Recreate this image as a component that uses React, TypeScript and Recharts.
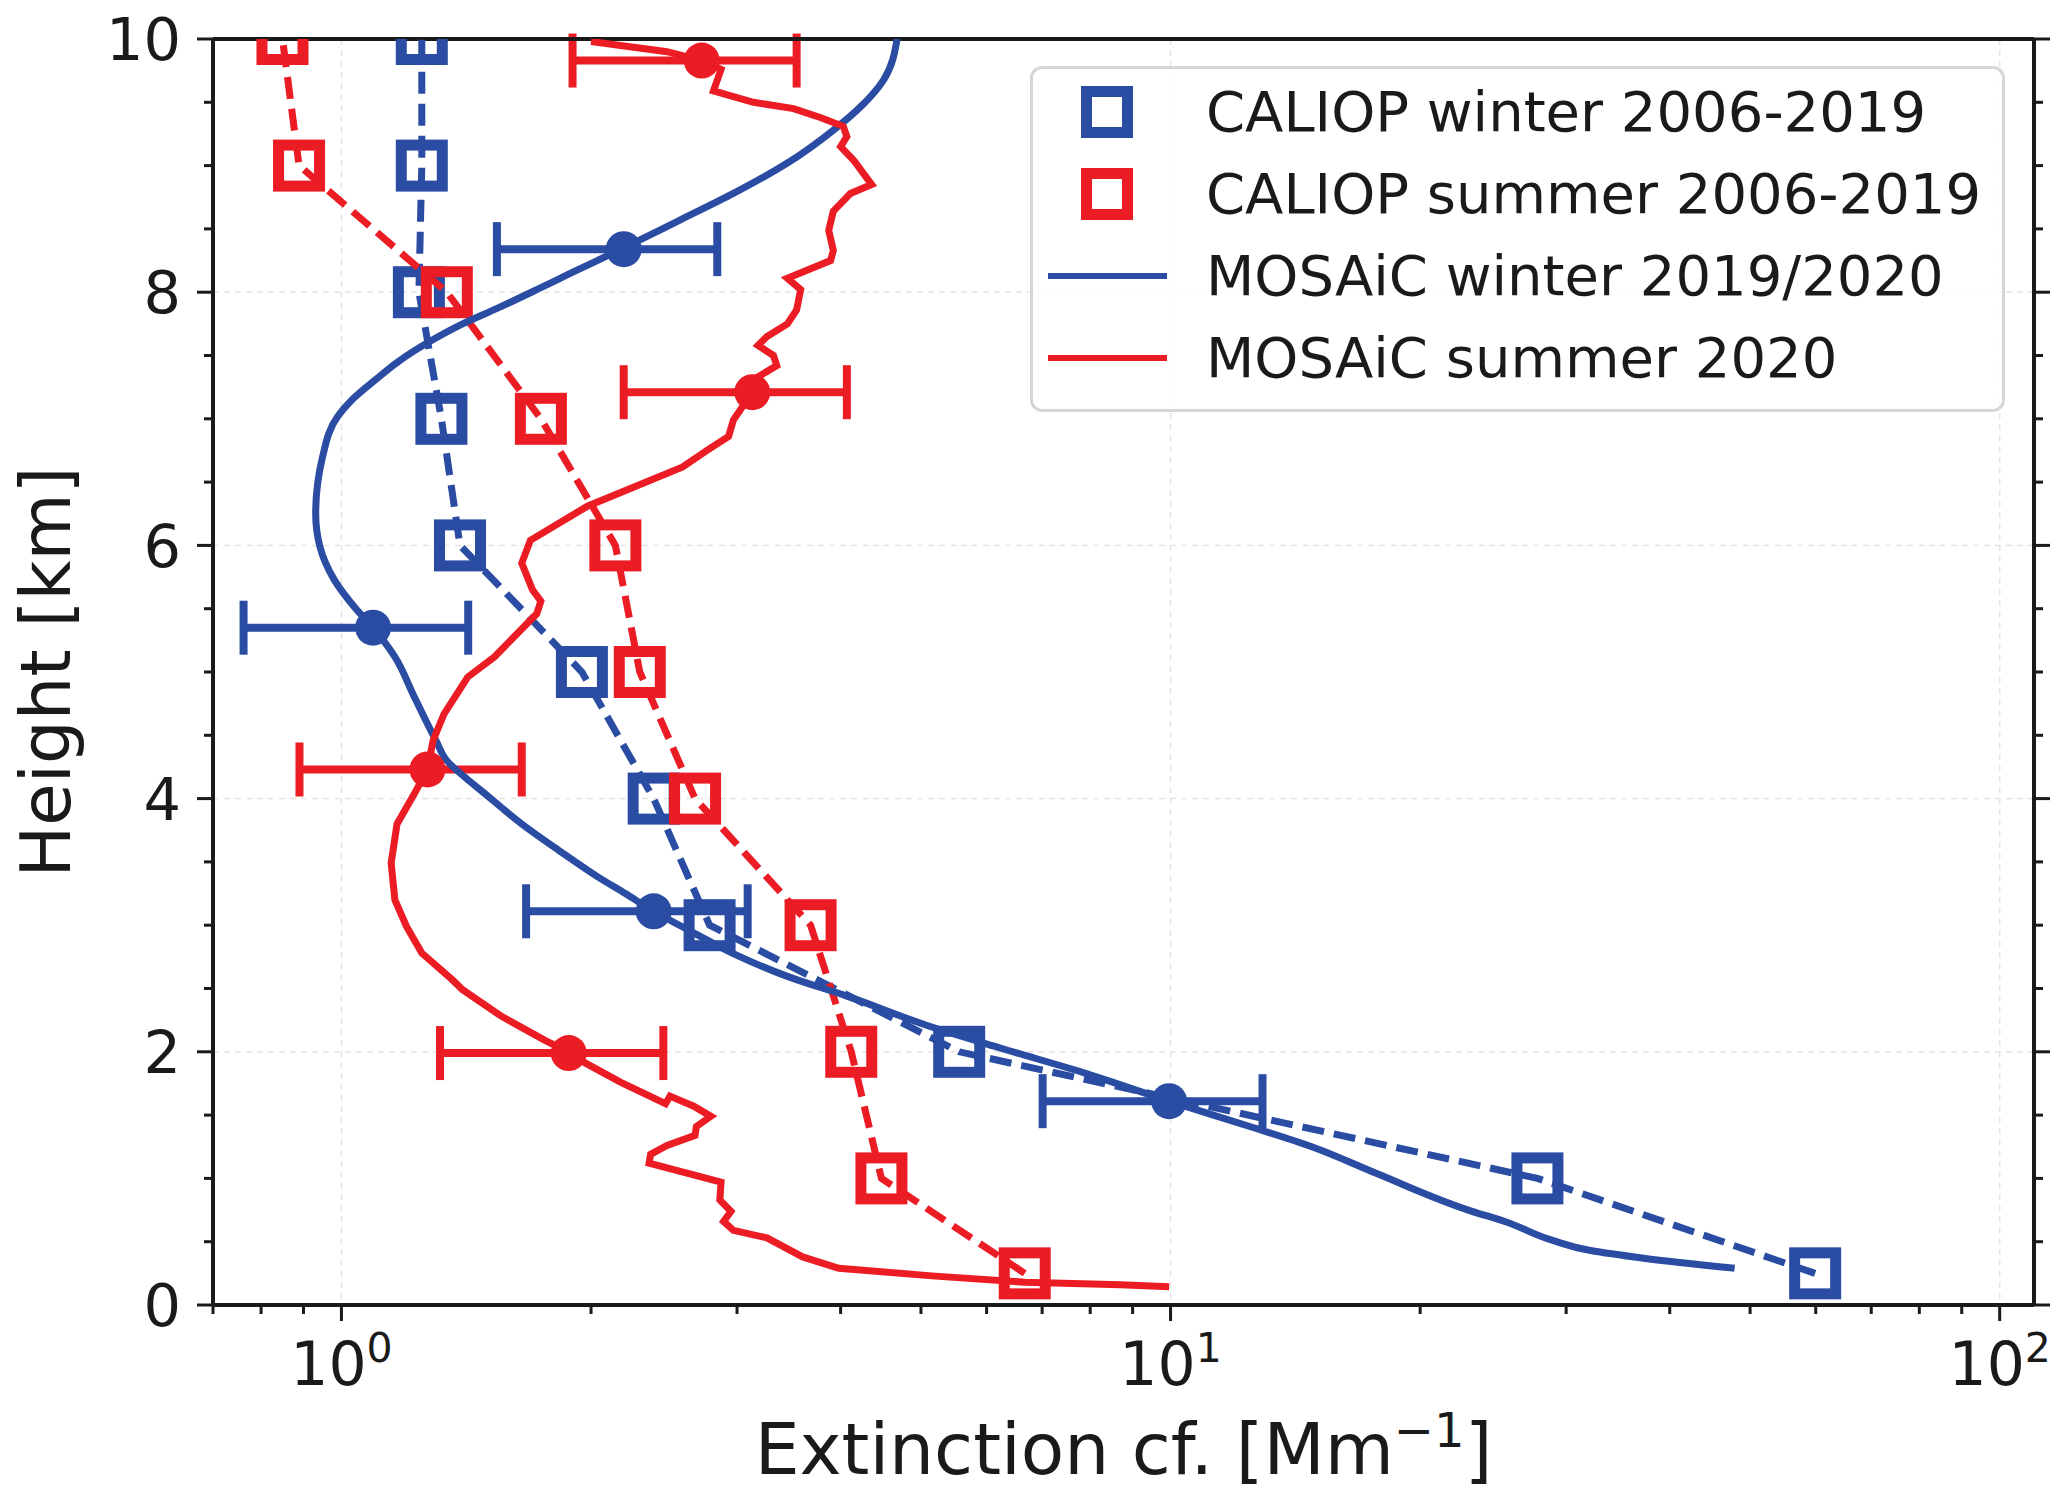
import { CartesianGrid, ComposedChart, ErrorBar, Legend, Scatter, XAxis, YAxis } from 'recharts'

const BLUE = '#2a4da3'
const RED = '#ec1c24'
const INK = '#1a1a1a'
const FONT = '"DejaVu Sans", sans-serif'

// CALIOP climatology (squares, dashed)
const caliopHeights = [0.25, 1, 2, 3, 4, 5, 6, 7, 8, 9, 10]
const caliopWinter = [59.9, 27.7, 5.56, 2.78, 2.38, 1.95, 1.39, 1.32, 1.24, 1.25, 1.25]
const caliopSummer = [6.67, 4.48, 4.12, 3.68, 2.67, 2.29, 2.14, 1.74, 1.34, 0.889, 0.849]

// MOSAiC profiles (solid lines)
const mosaicWinterH = [
  0.29, 0.37, 0.43, 0.51, 0.66, 0.74, 1.04, 1.25, 1.4, 1.61, 1.83, 2.03, 2.2, 2.44, 2.59, 2.78, 2.94,
  3.11, 3.25, 3.38, 3.59, 3.8, 4.07, 4.15, 4.3, 4.46, 4.8, 5.12, 5.35, 5.49, 5.73, 5.99, 6.25, 6.7,
  7.02, 7.15, 7.31, 7.45, 7.6, 7.75, 7.88, 8.02, 8.15, 8.35, 8.57, 8.78, 9.02, 9.28, 9.44, 9.68, 10.0,
]
const mosaicWinterX = [
  47.9, 37.2, 32.1, 28.9, 25.3, 23.1, 17.7, 14.8, 12.6, 9.96, 7.9, 6.23, 5.13, 4.07, 3.47, 2.96, 2.66,
  2.38, 2.2, 2.04, 1.83, 1.65, 1.47, 1.42, 1.34, 1.3, 1.225, 1.16, 1.092, 1.044, 0.98, 0.942, 0.931,
  0.949, 0.99, 1.03, 1.1, 1.17, 1.27, 1.4, 1.55, 1.72, 1.89, 2.19, 2.56, 2.97, 3.45, 3.92, 4.19, 4.51, 4.68,
]
const mosaicSummerH = [
  0.145, 0.16, 0.18, 0.23, 0.29, 0.38, 0.53, 0.59, 0.66, 0.74, 0.83, 0.97, 1.12, 1.19, 1.26, 1.34, 1.41,
  1.49, 1.57, 1.65, 1.59, 1.76, 1.91, 1.99, 2.09, 2.28, 2.49, 2.57, 2.78, 2.99, 3.2, 3.49, 3.8, 4.02,
  4.23, 4.46, 4.67, 4.96, 5.12, 5.46, 5.56, 5.65, 5.86, 6.04, 6.31, 6.46, 6.62, 6.75, 6.86, 6.99, 7.21,
  7.31, 7.42, 7.5, 7.58, 7.65, 7.75, 7.86, 8.02, 8.11, 8.25, 8.33, 8.49, 8.64, 8.78, 8.85, 9.04, 9.15,
  9.23, 9.31, 9.38, 9.45, 9.5, 9.59, 9.76, 9.83, 9.9, 9.98,
]
const mosaicSummerX = [
  9.96, 8.7, 6.67, 5.15, 3.98, 3.6, 3.26, 2.97, 2.89, 2.95, 2.86, 2.87, 2.35, 2.36, 2.47, 2.67, 2.68,
  2.79, 2.66, 2.49, 2.46, 2.17, 1.97, 1.89, 1.76, 1.56, 1.4, 1.36, 1.25, 1.198, 1.16, 1.148, 1.167, 1.22,
  1.27, 1.29, 1.33, 1.42, 1.53, 1.72, 1.74, 1.7, 1.65, 1.69, 1.98, 2.25, 2.58, 2.76, 2.93, 2.97, 3.13,
  3.14, 3.35, 3.32, 3.18, 3.26, 3.45, 3.54, 3.58, 3.45, 3.89, 3.92, 3.87, 3.92, 4.11, 4.36, 4.15, 4.0,
  4.07, 4.03, 3.78, 3.51, 3.14, 2.81, 2.87, 2.72, 2.47, 2.0,
]

// MOSAiC layer means with error bars
const winterPointH = [1.61, 3.11, 5.35, 8.34]
const winterPointX = [9.96, 2.38, 1.092, 2.19]
const winterPointErr = [2.95, 0.71, 0.33, 0.65]
const summerPointH = [1.99, 4.23, 7.21, 9.83]
const summerPointX = [1.88, 1.27, 3.13, 2.72]
const summerPointErr = [0.565, 0.38, 0.94, 0.82]

// axis ticks
const xMajor = [1, 10, 100]
const xTicks = [0.7, 0.8, 0.9, 1, 2, 3, 4, 5, 6, 7, 8, 9, 10, 20, 30, 40, 50, 60, 70, 80, 90, 100]
const yMajor = [0, 2, 4, 6, 8, 10]
const yTicks = [0, 0.5, 1, 1.5, 2, 2.5, 3, 3.5, 4, 4.5, 5, 5.5, 6, 6.5, 7, 7.5, 8, 8.5, 9, 9.5, 10]

const legendItems = [
  { label: 'CALIOP winter 2006-2019', color: BLUE, kind: 'square' },
  { label: 'CALIOP summer 2006-2019', color: RED, kind: 'square' },
  { label: 'MOSAiC winter 2019/2020', color: BLUE, kind: 'line' },
  { label: 'MOSAiC summer 2020', color: RED, kind: 'line' },
]

const toPoints = (h: number[], x: number[], err?: number[]) =>
  h.map((y, i) => ({ x: x[i], y, err: err ? err[i] : 0 }))

const SquareMarker = (color: string) => (props: any) => (
  <rect x={props.cx - 20.5} y={props.cy - 20.5} width={41} height={41} fill="none" stroke={color} strokeWidth={11} />
)
const DotMarker = (color: string) => (props: any) => <circle cx={props.cx} cy={props.cy} r={18} fill={color} />
const NoMarker = () => <g />

function BottomTick({ x, y, payload }: any) {
  const major = xMajor.includes(payload.value)
  return (
    <g>
      <line x1={x} x2={x} y1={y} y2={y + (major ? 16 : 9)} stroke={INK} strokeWidth={3} />
      {major && (
        <text x={x} y={y + 80} textAnchor="middle" fontSize={60} fontFamily={FONT} fill={INK}>
          <tspan>10</tspan>
          <tspan dy={-23} fontSize={41}>{Math.round(Math.log10(payload.value))}</tspan>
        </text>
      )}
    </g>
  )
}

function TopTick({ x, y, payload }: any) {
  const major = xMajor.includes(payload.value)
  return <line x1={x} x2={x} y1={y} y2={y - (major ? 16 : 9)} stroke={INK} strokeWidth={3} />
}

function LeftTick({ x, y, payload }: any) {
  const major = yMajor.includes(payload.value)
  return (
    <g>
      <line x1={x - (major ? 16 : 9)} x2={x} y1={y} y2={y} stroke={INK} strokeWidth={3} />
      {major && (
        <text x={x - 32} y={y} dy="0.36em" textAnchor="end" fontSize={59} fontFamily={FONT} fill={INK}>
          {payload.value}
        </text>
      )}
    </g>
  )
}

function RightTick({ x, y, payload }: any) {
  const major = yMajor.includes(payload.value)
  return <line x1={x} x2={x + (major ? 16 : 9)} y1={y} y2={y} stroke={INK} strokeWidth={3} />
}

const renderXLabel = ({ viewBox }: any) => (
  <text
    x={viewBox.x + viewBox.width / 2}
    y={viewBox.y + 169}
    textAnchor="middle"
    fontSize={71}
    fontFamily={FONT}
    fill={INK}
  >
    <tspan>Extinction cf. [Mm</tspan>
    <tspan dy={-27} fontSize={48}>−1</tspan>
    <tspan dy={27}>]</tspan>
  </text>
)

const renderYLabel = ({ viewBox }: any) => {
  const cy = viewBox.y + viewBox.height / 2
  return (
    <text
      x={70}
      y={cy}
      transform={`rotate(-90, 70, ${cy})`}
      textAnchor="middle"
      fontSize={69}
      fontFamily={FONT}
      fill={INK}
    >
      Height [km]
    </text>
  )
}

function LegendBox() {
  return (
    <div
      style={{
        boxSizing: 'border-box',
        width: 975,
        height: 346,
        border: '3px solid #d6d6d6',
        borderRadius: 12,
        background: 'rgba(255,255,255,0.85)',
        paddingTop: 2,
        fontFamily: FONT,
      }}
    >
      {legendItems.map((item) => (
        <div key={item.label} style={{ height: 82, display: 'flex', alignItems: 'center' }}>
          <svg width={173} height={82} style={{ flex: 'none' }}>
            {item.kind === 'square' ? (
              <rect x={53.5} y={20.5} width={41} height={41} fill="none" stroke={item.color} strokeWidth={11} />
            ) : (
              <line x1={15} x2={134} y1={41} y2={41} stroke={item.color} strokeWidth={6} />
            )}
          </svg>
          <span style={{ fontSize: 56, color: INK, whiteSpace: 'nowrap', lineHeight: 1 }}>{item.label}</span>
        </div>
      ))}
    </div>
  )
}

export default function App() {
  const winterSquares = toPoints(caliopHeights, caliopWinter)
  const summerSquares = toPoints(caliopHeights, caliopSummer)
  const winterProfile = toPoints(mosaicWinterH, mosaicWinterX)
  const summerProfile = toPoints(mosaicSummerH, mosaicSummerX)
  const winterPoints = toPoints(winterPointH, winterPointX, winterPointErr)
  const summerPoints = toPoints(summerPointH, summerPointX, summerPointErr)

  return (
    <div style={{ position: 'absolute', left: 0, top: 0, width: 2067, height: 1502, background: '#fff' }}>
      <ComposedChart width={2067} height={1502} margin={{ top: 38, right: 32, bottom: 0, left: 0 }}>
        <CartesianGrid
          xAxisId="x"
          yAxisId="y"
          verticalValues={xMajor}
          horizontalValues={[2, 4, 6, 8]}
          stroke="#e4e4e4"
          strokeDasharray="6 5"
          strokeWidth={1.5}
        />
        <XAxis
          xAxisId="x"
          dataKey="x"
          type="number"
          scale="log"
          domain={[0.7, 110]}
          allowDataOverflow
          ticks={xTicks}
          interval={0}
          tickSize={0}
          tickMargin={0}
          tick={<BottomTick />}
          axisLine={{ stroke: INK, strokeWidth: 4 }}
          height={197}
          label={renderXLabel}
        />
        <XAxis
          xAxisId="xt"
          orientation="top"
          type="number"
          scale="log"
          domain={[0.7, 110]}
          allowDataOverflow
          ticks={xTicks}
          interval={0}
          tickSize={0}
          tickMargin={0}
          tick={<TopTick />}
          axisLine={{ stroke: INK, strokeWidth: 4 }}
          height={1}
        />
        <YAxis
          yAxisId="y"
          dataKey="y"
          type="number"
          domain={[0, 10]}
          allowDataOverflow
          ticks={yTicks}
          interval={0}
          tickSize={0}
          tickMargin={0}
          tick={<LeftTick />}
          axisLine={{ stroke: INK, strokeWidth: 4 }}
          width={213}
          label={renderYLabel}
        />
        <YAxis
          yAxisId="yr"
          orientation="right"
          type="number"
          domain={[0, 10]}
          allowDataOverflow
          ticks={yTicks}
          interval={0}
          tickSize={0}
          tickMargin={0}
          tick={<RightTick />}
          axisLine={{ stroke: INK, strokeWidth: 4 }}
          width={1}
        />
        <Legend
          layout="horizontal"
          verticalAlign="middle"
          align="center"
          wrapperStyle={{ left: 1030, top: 66, width: 975, height: 346 }}
          content={() => <LegendBox />}
        />
        <Scatter
          xAxisId="x"
          yAxisId="y"
          data={winterSquares}
          shape={SquareMarker(BLUE)}
          line={{ stroke: BLUE, strokeWidth: 7, strokeDasharray: '22 10' }}
          strokeWidth={7}
          fill="none"
          legendType="none"
          isAnimationActive={false}
        />
        <Scatter
          xAxisId="x"
          yAxisId="y"
          data={summerSquares}
          shape={SquareMarker(RED)}
          line={{ stroke: RED, strokeWidth: 7, strokeDasharray: '22 10' }}
          strokeWidth={7}
          fill="none"
          legendType="none"
          isAnimationActive={false}
        />
        <Scatter
          xAxisId="x"
          yAxisId="y"
          data={winterProfile}
          shape={NoMarker}
          line={{ stroke: BLUE, strokeWidth: 7 }}
          strokeWidth={7}
          lineJointType="monotoneY"
          fill="none"
          legendType="none"
          isAnimationActive={false}
        />
        <Scatter
          xAxisId="x"
          yAxisId="y"
          data={summerProfile}
          shape={NoMarker}
          line={{ stroke: RED, strokeWidth: 7 }}
          strokeWidth={7}
          fill="none"
          legendType="none"
          isAnimationActive={false}
        />
        <Scatter
          xAxisId="x"
          yAxisId="y"
          data={winterPoints}
          shape={DotMarker(BLUE)}
          fill={BLUE}
          legendType="none"
          isAnimationActive={false}
        >
          <ErrorBar dataKey="err" direction="x" width={27} stroke={BLUE} strokeWidth={8} isAnimationActive={false} />
        </Scatter>
        <Scatter
          xAxisId="x"
          yAxisId="y"
          data={summerPoints}
          shape={DotMarker(RED)}
          fill={RED}
          legendType="none"
          isAnimationActive={false}
        >
          <ErrorBar dataKey="err" direction="x" width={27} stroke={RED} strokeWidth={8} isAnimationActive={false} />
        </Scatter>
      </ComposedChart>
    </div>
  )
}
